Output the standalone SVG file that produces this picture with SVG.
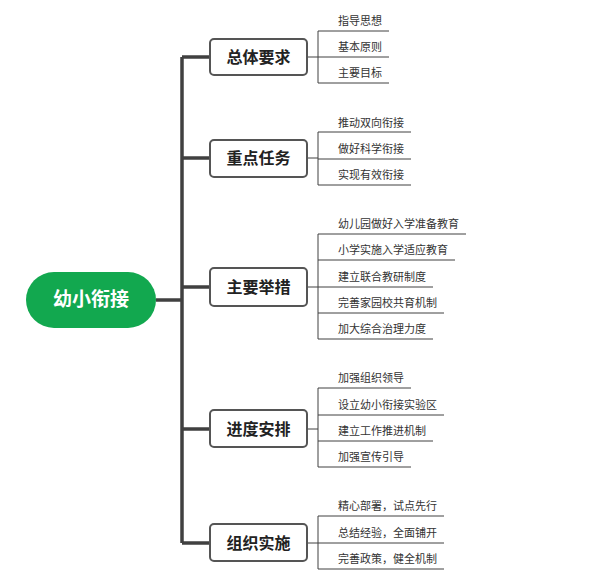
<svg xmlns="http://www.w3.org/2000/svg" width="611" height="576" viewBox="0 0 611 576">
<style>
.t{stroke:#404040;stroke-width:3.5;fill:none}
.l{stroke:#404040;stroke-width:1;fill:none}
.b{fill:#fff;stroke:#555;stroke-width:2}
.bt{font-family:"Noto Sans CJK SC",sans-serif;font-size:16px;font-weight:bold;fill:#222;text-anchor:middle}
.lt{font-family:"Noto Sans CJK SC",sans-serif;font-size:11px;fill:#333}
</style>
<rect width="611" height="576" fill="#fff"/>
<g id="connectors">
<path class="t" d="M156 300H182M182 57V543M182 57H210M182 158H210M182 287H210M182 429H210M182 543H210"/>
<path class="l" d="M307 57H318M318 31V83M318 31H389M318 57H389M318 83H389"/>
<path class="l" d="M307 158H318M318 132V185M318 132H411M318 159H411M318 185H411"/>
<path class="l" d="M307 287H318M318 234V339M318 234H466M318 260H455M318 287H433M318 313H444M318 339H433"/>
<path class="l" d="M307 429H318M318 388V467M318 388H411M318 415H444M318 441H433M318 467H411"/>
<path class="l" d="M307 543H318M318 516V569M318 516H444M318 543H444M318 569H444"/>
</g>
<g id="root"><rect x="26" y="272" width="130" height="56" rx="28" fill="#12a84f"/><text x="91" y="306" text-anchor="middle" font-family="Noto Sans CJK SC,sans-serif" font-size="19" font-weight="bold" fill="#fff">幼小衔接</text></g>
<g id="n1"><rect class="b" x="210" y="39" width="97" height="36" rx="4"/><text class="bt" x="258.5" y="63">总体要求</text></g>
<g id="n2"><rect class="b" x="210" y="140" width="97" height="37" rx="4"/><text class="bt" x="258.5" y="164">重点任务</text></g>
<g id="n3"><rect class="b" x="210" y="268" width="97" height="38" rx="4"/><text class="bt" x="258.5" y="293">主要举措</text></g>
<g id="n4"><rect class="b" x="210" y="410" width="97" height="37" rx="4"/><text class="bt" x="258.5" y="435">进度安排</text></g>
<g id="n5"><rect class="b" x="210" y="524" width="97" height="37" rx="4"/><text class="bt" x="258.5" y="549">组织实施</text></g>
<g id="leaves">
<text class="lt" x="338" y="25">指导思想</text>
<text class="lt" x="338" y="51">基本原则</text>
<text class="lt" x="338" y="77">主要目标</text>
<text class="lt" x="338" y="127">推动双向衔接</text>
<text class="lt" x="338" y="153">做好科学衔接</text>
<text class="lt" x="338" y="179">实现有效衔接</text>
<text class="lt" x="338" y="228">幼儿园做好入学准备教育</text>
<text class="lt" x="338" y="254">小学实施入学适应教育</text>
<text class="lt" x="338" y="281">建立联合教研制度</text>
<text class="lt" x="338" y="307">完善家园校共育机制</text>
<text class="lt" x="338" y="333">加大综合治理力度</text>
<text class="lt" x="338" y="382">加强组织领导</text>
<text class="lt" x="338" y="409">设立幼小衔接实验区</text>
<text class="lt" x="338" y="435">建立工作推进机制</text>
<text class="lt" x="338" y="461">加强宣传引导</text>
<text class="lt" x="338" y="510">精心部署，试点先行</text>
<text class="lt" x="338" y="537">总结经验，全面铺开</text>
<text class="lt" x="338" y="563">完善政策，健全机制</text>
</g>
</svg>
